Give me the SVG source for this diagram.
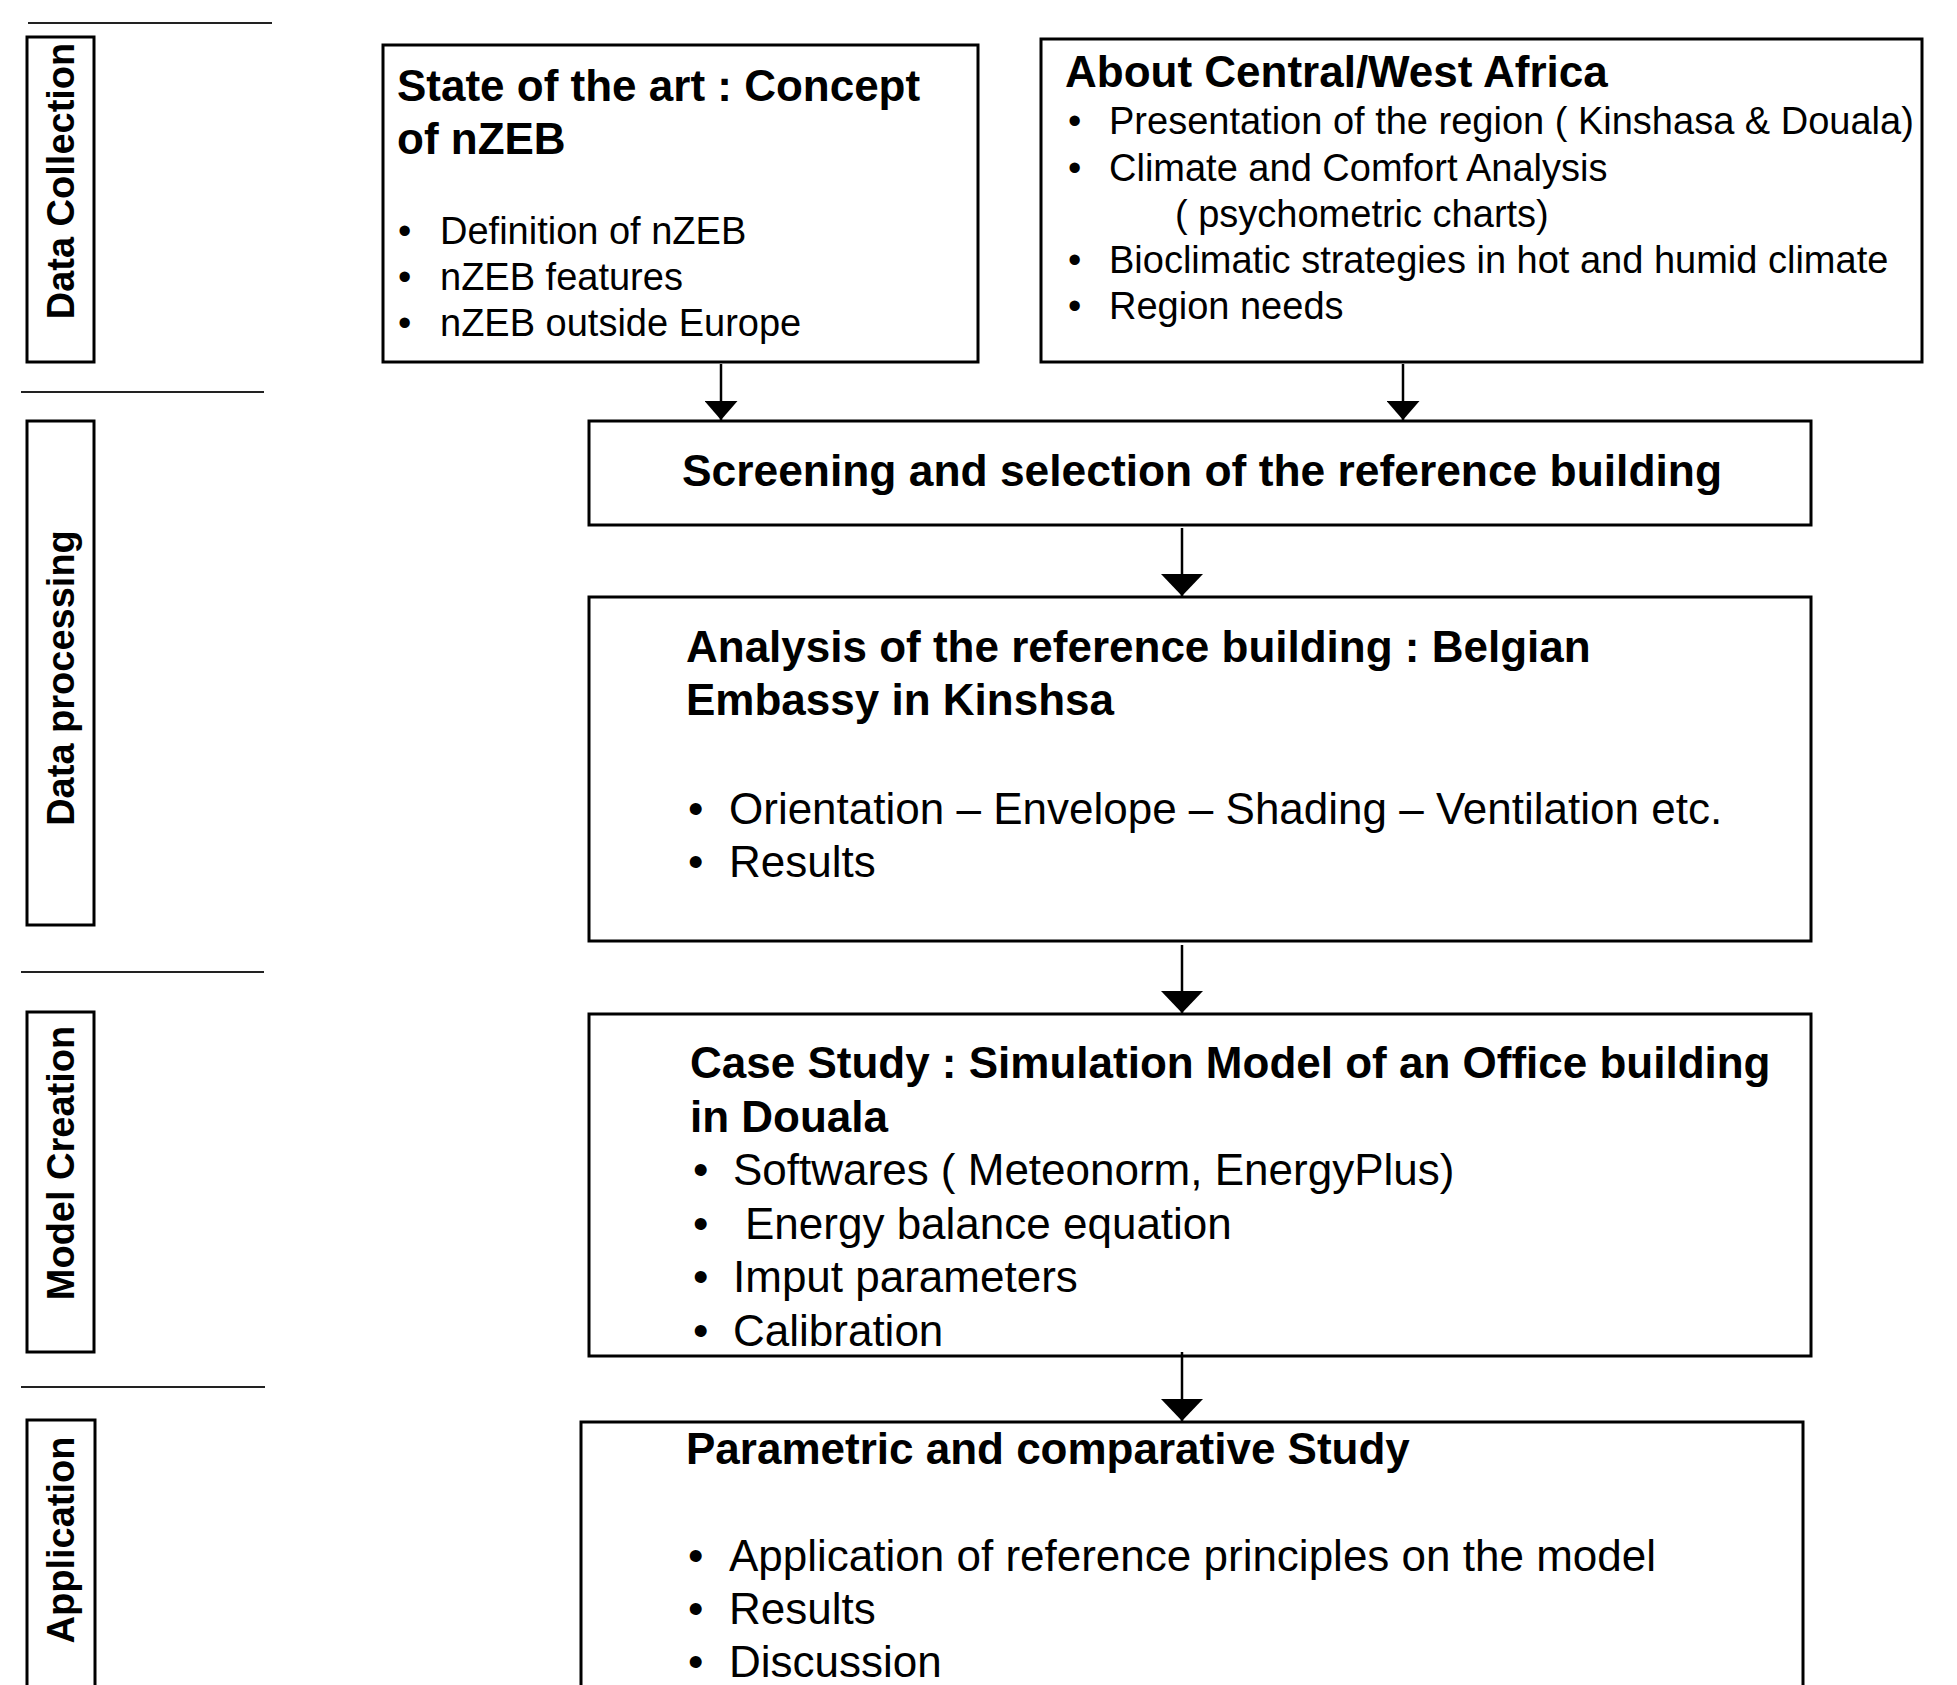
<svg xmlns="http://www.w3.org/2000/svg" width="1957" height="1685" viewBox="0 0 1957 1685">
  <style>
    text { font-family: "Liberation Sans", Arial, sans-serif; fill: #000; }
    .title { font-size: 44px; font-weight: bold; }
    .lbl { font-size: 38px; font-weight: bold; }
    .b38 { font-size: 38px; }
    .b44 { font-size: 44px; }
    .box { fill: #fff; stroke: #000; stroke-width: 3; }
    .sep { stroke: #222; stroke-width: 2; }
    .conn { stroke: #000; stroke-width: 2.5; fill: none; }
  </style>
  <defs>
    <marker id="ahL" markerUnits="userSpaceOnUse" markerWidth="22" markerHeight="42" refX="22" refY="21" orient="auto" viewBox="0 0 22 42">
      <path d="M0,0 L22,21 L0,42 z" fill="#000"/>
    </marker>
    <marker id="ahT" markerUnits="userSpaceOnUse" markerWidth="19" markerHeight="33" refX="19" refY="16.5" orient="auto" viewBox="0 0 19 33">
      <path d="M0,0 L19,16.5 L0,33 z" fill="#000"/>
    </marker>
  </defs>
  <rect width="1957" height="1685" fill="#fff"/>

  <g id="separators">
    <line class="sep" x1="28" y1="23" x2="272" y2="23"/>
    <line class="sep" x1="21" y1="392" x2="264" y2="392"/>
    <line class="sep" x1="21" y1="972" x2="264" y2="972"/>
    <line class="sep" x1="21" y1="1387" x2="265" y2="1387"/>
  </g>

  <g id="phase-data-collection">
    <rect class="box" x="27" y="37" width="67" height="325"/>
    <text class="lbl" transform="translate(74,181) rotate(-90)" text-anchor="middle">Data Collection</text>
  </g>
  <g id="phase-data-processing">
    <rect class="box" x="27" y="421" width="67" height="504"/>
    <text class="lbl" transform="translate(74,678) rotate(-90)" text-anchor="middle">Data processing</text>
  </g>
  <g id="phase-model-creation">
    <rect class="box" x="27" y="1012" width="67" height="340"/>
    <text class="lbl" transform="translate(74,1163) rotate(-90)" text-anchor="middle">Model Creation</text>
  </g>
  <g id="phase-application">
    <rect class="box" x="27" y="1420" width="68" height="300"/>
    <text class="lbl" transform="translate(74,1540) rotate(-90)" text-anchor="middle">Application</text>
  </g>

  <g id="node-state-of-art">
    <rect class="box" x="383" y="45" width="595" height="317"/>
    <text class="title" x="397" y="101">State of the art : Concept</text>
    <text class="title" x="397" y="154">of nZEB</text>
    <text class="b38" x="398" y="244">•</text>
    <text class="b38" x="440" y="244">Definition of nZEB</text>
    <text class="b38" x="398" y="290">•</text>
    <text class="b38" x="440" y="290">nZEB features</text>
    <text class="b38" x="398" y="336">•</text>
    <text class="b38" x="440" y="336">nZEB outside Europe</text>
  </g>

  <g id="node-africa">
    <rect class="box" x="1041" y="39" width="881" height="323"/>
    <text class="title" x="1065" y="87">About Central/West Africa</text>
    <text class="b38" x="1068" y="134">•</text>
    <text class="b38" x="1109" y="134">Presentation of the region ( Kinshasa &amp; Douala)</text>
    <text class="b38" x="1068" y="181">•</text>
    <text class="b38" x="1109" y="181">Climate and Comfort Analysis</text>
    <text class="b38" x="1175" y="227">( psychometric charts)</text>
    <text class="b38" x="1068" y="273">•</text>
    <text class="b38" x="1109" y="273">Bioclimatic strategies in hot and humid climate</text>
    <text class="b38" x="1068" y="319">•</text>
    <text class="b38" x="1109" y="319">Region needs</text>
  </g>

  <g id="node-screening">
    <rect class="box" x="589" y="421" width="1222" height="104"/>
    <text class="title" x="682" y="486" textLength="1040" lengthAdjust="spacingAndGlyphs">Screening and selection of the reference building</text>
  </g>

  <g id="node-analysis">
    <rect class="box" x="589" y="597" width="1222" height="344"/>
    <text class="title" x="686" y="662">Analysis of the reference building : Belgian</text>
    <text class="title" x="686" y="715">Embassy in Kinshsa</text>
    <text class="b44" x="688" y="824">•</text>
    <text class="b44" x="729" y="824">Orientation – Envelope – Shading – Ventilation etc.</text>
    <text class="b44" x="688" y="877">•</text>
    <text class="b44" x="729" y="877">Results</text>
  </g>

  <g id="node-case-study">
    <rect class="box" x="589" y="1014" width="1222" height="342"/>
    <text class="title" x="690" y="1078">Case Study : Simulation Model of an Office building</text>
    <text class="title" x="690" y="1132">in Douala</text>
    <text class="b44" x="693" y="1185">•</text>
    <text class="b44" x="733" y="1185">Softwares ( Meteonorm, EnergyPlus)</text>
    <text class="b44" x="693" y="1239">•</text>
    <text class="b44" x="745" y="1239">Energy balance equation</text>
    <text class="b44" x="693" y="1292">•</text>
    <text class="b44" x="733" y="1292">Imput parameters</text>
    <text class="b44" x="693" y="1346">•</text>
    <text class="b44" x="733" y="1346">Calibration</text>
  </g>

  <g id="node-parametric">
    <rect class="box" x="581" y="1422" width="1222" height="300"/>
    <text class="title" x="686" y="1464">Parametric and comparative Study</text>
    <text class="b44" x="688" y="1571">•</text>
    <text class="b44" x="729" y="1571">Application of reference principles on the model</text>
    <text class="b44" x="688" y="1624">•</text>
    <text class="b44" x="729" y="1624">Results</text>
    <text class="b44" x="688" y="1677">•</text>
    <text class="b44" x="729" y="1677">Discussion</text>
  </g>

  <g id="connectors">
    <line class="conn" x1="721" y1="364" x2="721" y2="420" marker-end="url(#ahT)"/>
    <line class="conn" x1="1403" y1="364" x2="1403" y2="420" marker-end="url(#ahT)"/>
    <line class="conn" x1="1182" y1="528" x2="1182" y2="596" marker-end="url(#ahL)"/>
    <line class="conn" x1="1182" y1="945" x2="1182" y2="1013" marker-end="url(#ahL)"/>
    <line class="conn" x1="1182" y1="1352" x2="1182" y2="1421" marker-end="url(#ahL)"/>
  </g>
</svg>
